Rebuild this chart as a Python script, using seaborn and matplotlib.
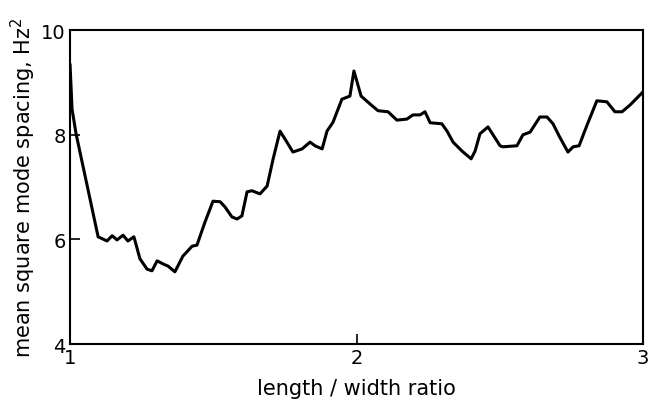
import seaborn as sns
import matplotlib.pyplot as plt
import pandas as pd

# values
ratio = [1.0, 1.007, 1.021, 1.098, 1.129, 1.147, 1.164, 1.185, 1.202, 1.223,
         1.244, 1.269, 1.286, 1.304, 1.325, 1.342, 1.366, 1.394, 1.426, 1.443,
         1.471, 1.499, 1.524, 1.541, 1.565, 1.583, 1.600, 1.618, 1.635, 1.663,
         1.688, 1.709, 1.733, 1.757, 1.778, 1.810, 1.838, 1.855, 1.880, 1.897,
         1.918, 1.949, 1.977, 1.991, 2.016, 2.047, 2.075, 2.110, 2.141, 2.176,
         2.197, 2.222, 2.239, 2.257, 2.298, 2.316, 2.337, 2.368, 2.400, 2.414,
         2.431, 2.459, 2.501, 2.511, 2.560, 2.581, 2.606, 2.640, 2.665, 2.686,
         2.707, 2.738, 2.756, 2.777, 2.805, 2.839, 2.874, 2.902, 2.927, 2.955,
         3.0]
spacing = [9.35, 8.49, 8.02, 6.05, 5.97, 6.07, 5.99, 6.08, 5.97, 6.05,
           5.63, 5.43, 5.40, 5.59, 5.53, 5.49, 5.38, 5.68, 5.87, 5.89,
           6.33, 6.73, 6.72, 6.62, 6.43, 6.39, 6.45, 6.91, 6.93, 6.87,
           7.02, 7.54, 8.07, 7.86, 7.67, 7.73, 7.86, 7.79, 7.73, 8.07,
           8.24, 8.68, 8.74, 9.22, 8.74, 8.59, 8.46, 8.44, 8.28, 8.30,
           8.38, 8.38, 8.44, 8.23, 8.21, 8.07, 7.86, 7.69, 7.54, 7.69,
           8.02, 8.15, 7.79, 7.77, 7.79, 8.00, 8.05, 8.34, 8.34, 8.21,
           7.98, 7.67, 7.77, 7.79, 8.19, 8.65, 8.63, 8.44, 8.44, 8.57,
           8.82]
x_ticks = [1, 2, 3]
y_ticks = [4, 6, 8, 10]

df = pd.DataFrame({'ratio': ratio, 'spacing': spacing})

sns.set_style('ticks')
plt.rcParams['font.family'] = ['DejaVu Sans']
plt.rcParams['text.color'] = 'black'
plt.rcParams['axes.labelcolor'] = 'black'

fig = plt.figure(figsize=(6.67, 4.10), dpi=100)
ax = fig.add_axes([0.105, 0.1585, 0.859, 0.7655])

sns.lineplot(data=df, x='ratio', y='spacing', color='black', linewidth=2.2, ax=ax)

ax.set_xlim(1, 3)
ax.set_ylim(4, 10)
ax.set_xticks(x_ticks)
ax.set_yticks(y_ticks)
ax.tick_params(direction='in', length=7, width=1.2, labelsize=14, colors='black', pad=3)
for s in ax.spines.values():
    s.set_linewidth(1.5)
    s.set_color('black')

ax.set_xlabel('length / width ratio', fontsize=15, labelpad=8)
ax.set_ylabel('mean square mode spacing, Hz$^2$', fontsize=15, labelpad=2)

fig.savefig('out.png', dpi=100)
